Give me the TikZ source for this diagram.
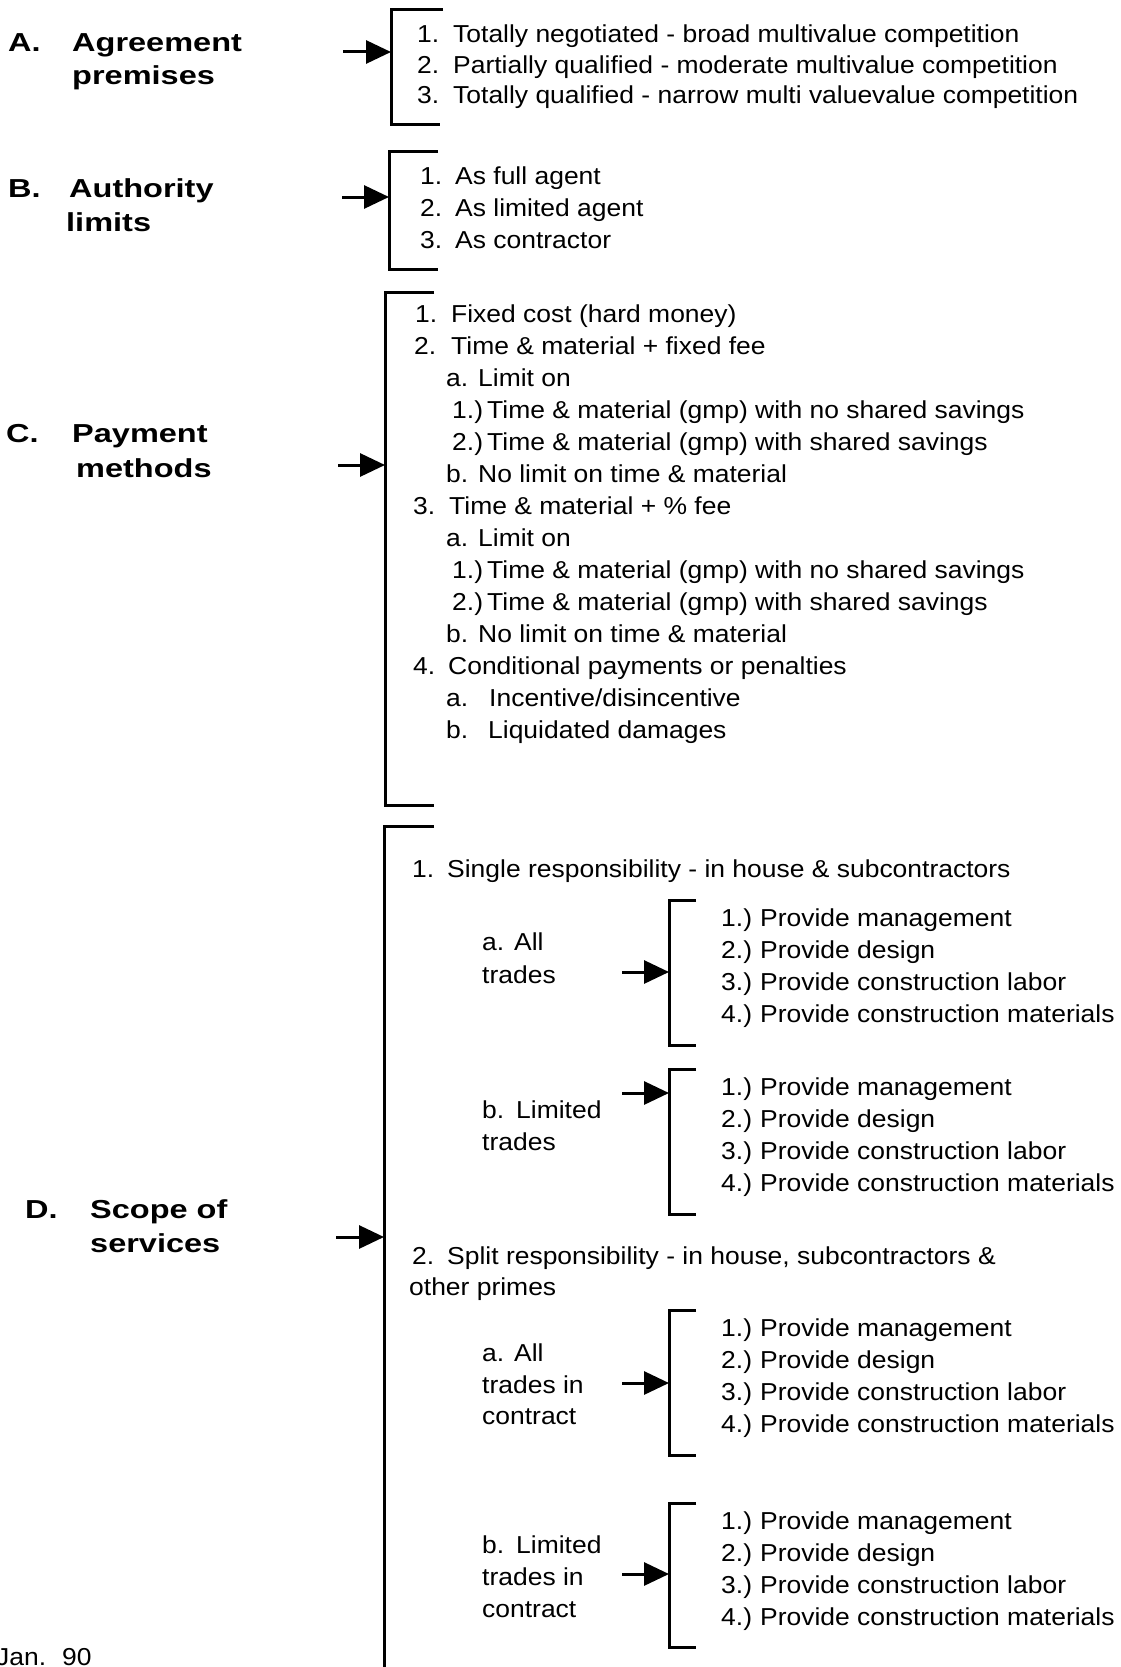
\documentclass[tikz,border=0pt]{standalone}
\usepackage{fontspec}
\setmainfont{Liberation Sans}[FakeStretch=1.08]
\newfontfamily\headfont{Liberation Sans}[FakeStretch=1.25]
\usetikzlibrary{arrows.meta}

% number in a fixed-width slot, followed by the entry text
\newcommand\numbox[3]{\makebox[#1pt][l]{#2}#3}

\tikzset{
  entry/.style={anchor=base west, inner sep=0pt, font=\fontsize{24.5}{29}\selectfont},
  heading/.style={anchor=base west, inner sep=0pt, font=\headfont\bfseries\fontsize{26}{31}\selectfont},
  brace/.style={line width=3pt, line join=miter},
  pointer/.style={line width=3pt, -{Triangle[length=25pt,width=23pt]}},
}

\begin{document}
\begin{tikzpicture}[x=1pt,y=-1pt]
\useasboundingbox (0,0) rectangle (1121,1667);
\fill[white] (0,0) rectangle (1121,1667);

% ---------- A. Agreement premises ----------
\node[heading] (Anum) at (8,52) {A.};
\node[heading] (Ahead1) at (72,52) {Agreement};
\node[heading] (Ahead2) at (72,85) {premises};
\coordinate (Atl) at (443,9.5);  \coordinate (Atop) at (391,9.5);
\coordinate (Abot) at (391,125); \coordinate (Abl) at (440,125);
\draw[brace] (Atl) -- (Atop) -- (Abot) -- (Abl);
\coordinate (Atail) at (343,52); \coordinate (Atip) at (391,52);
\draw[pointer] (Atail) -- (Atip);
\node[entry] (A1) at (417,43)  {\numbox{36}{1.}{Totally negotiated - broad multivalue competition}};
\node[entry] (A2) at (417,74)  {\numbox{36}{2.}{Partially qualified - moderate multivalue competition}};
\node[entry] (A3) at (417,104) {\numbox{36}{3.}{Totally qualified - narrow multi valuevalue competition}};

% ---------- B. Authority limits ----------
\node[heading] (Bnum) at (8,197) {B.};
\node[heading] (Bhead1) at (69,197) {Authority};
\node[heading] (Bhead2) at (66,231) {limits};
\coordinate (Btl) at (438,151);  \coordinate (Btop) at (389,151);
\coordinate (Bbot) at (389,269); \coordinate (Bbl) at (438,269);
\draw[brace] (Btl) -- (Btop) -- (Bbot) -- (Bbl);
\coordinate (Btail) at (342,197); \coordinate (Btip) at (389,197);
\draw[pointer] (Btail) -- (Btip);
\node[entry] (B1) at (420,184) {\numbox{35}{1.}{As full agent}};
\node[entry] (B2) at (420,216) {\numbox{35}{2.}{As limited agent}};
\node[entry] (B3) at (420,248) {\numbox{35}{3.}{As contractor}};

% ---------- C. Payment methods ----------
\node[heading] (Cnum) at (6,442) {C.};
\node[heading] (Chead1) at (72,442) {Payment};
\node[heading] (Chead2) at (76,477) {methods};
\coordinate (Ctl) at (434,292.5); \coordinate (Ctop) at (385,292.5);
\coordinate (Cbot) at (385,805);  \coordinate (Cbl) at (434,805);
\draw[brace] (Ctl) -- (Ctop) -- (Cbot) -- (Cbl);
\coordinate (Ctail) at (338,465); \coordinate (Ctip) at (385,465);
\draw[pointer] (Ctail) -- (Ctip);
\node[entry] (C1)  at (415,322) {\numbox{36}{1.}{Fixed cost (hard money)}};
\node[entry] (C2)  at (414,354) {\numbox{37}{2.}{Time \& material + fixed fee}};
\node[entry] (C2a) at (446,386) {\numbox{32}{a.}{Limit on}};
\node[entry] (C2a1) at (452,418) {\numbox{35}{1.)}{Time \& material (gmp) with no shared savings}};
\node[entry] (C2a2) at (452,450) {\numbox{35}{2.)}{Time \& material (gmp) with shared savings}};
\node[entry] (C2b) at (446,482) {\numbox{32}{b.}{No limit on time \& material}};
\node[entry] (C3)  at (413,514) {\numbox{36}{3.}{Time \& material + \% fee}};
\node[entry] (C3a) at (446,546) {\numbox{32}{a.}{Limit on}};
\node[entry] (C3a1) at (452,578) {\numbox{35}{1.)}{Time \& material (gmp) with no shared savings}};
\node[entry] (C3a2) at (452,610) {\numbox{35}{2.)}{Time \& material (gmp) with shared savings}};
\node[entry] (C3b) at (446,642) {\numbox{32}{b.}{No limit on time \& material}};
\node[entry] (C4)  at (413,674) {\numbox{35}{4.}{Conditional payments or penalties}};
\node[entry] (C4a) at (446,706) {\numbox{43}{a.}{Incentive/disincentive}};
\node[entry] (C4b) at (446,738) {\numbox{42}{b.}{Liquidated damages}};

% ---------- D. Scope of services ----------
\node[heading] (Dnum) at (25,1218) {D.};
\node[heading] (Dhead1) at (90,1218) {Scope of};
\node[heading] (Dhead2) at (90,1252) {services};
\coordinate (Dtl) at (434,826);   \coordinate (Dtop) at (384,826);
\coordinate (Dbot) at (384,1672);
\draw[brace] (Dtl) -- (Dtop) -- (Dbot);
\coordinate (Dtail) at (336,1237); \coordinate (Dtip) at (384,1237);
\draw[pointer] (Dtail) -- (Dtip);

\node[entry] (D1) at (412,877) {\numbox{35}{1.}{Single responsibility - in house \& subcontractors}};
\node[entry] (D1a1) at (482,950)  {\numbox{32}{a.}{All}};
\node[entry] (D1a2) at (482,983)  {trades};
\node[entry] (D1b1) at (482,1118) {\numbox{34}{b.}{Limited}};
\node[entry] (D1b2) at (482,1150) {trades};

\node[entry] (D2)  at (412,1264) {\numbox{35}{2.}{Split responsibility - in house, subcontractors \&}};
\node[entry] (D2x) at (409,1295) {other primes};
\node[entry] (D2a1) at (482,1361) {\numbox{32}{a.}{All}};
\node[entry] (D2a2) at (482,1393) {trades in};
\node[entry] (D2a3) at (482,1424) {contract};
\node[entry] (D2b1) at (482,1553) {\numbox{34}{b.}{Limited}};
\node[entry] (D2b2) at (482,1585) {trades in};
\node[entry] (D2b3) at (482,1617) {contract};

% the four service lists, each with its own bracket and pointer
\foreach \k/\tp/\bt/\ay in {Sa/900/1045/972, Sb/1069/1214/1093, Sc/1310/1455/1383, Sd/1503/1647/1574}{
  \coordinate (\k tl) at (696,\tp);  \coordinate (\k top) at (669,\tp);
  \coordinate (\k bot) at (669,\bt); \coordinate (\k bl) at (696,\bt);
  \draw[brace] (\k tl) -- (\k top) -- (\k bot) -- (\k bl);
  \coordinate (\k tail) at (622,\ay); \coordinate (\k tip) at (669,\ay);
  \draw[pointer] (\k tail) -- (\k tip);
  \node[entry] (\k 1) at (721,\tp+26)  {\numbox{39}{1.)}{Provide management}};
  \node[entry] (\k 2) at (721,\tp+58)  {\numbox{39}{2.)}{Provide design}};
  \node[entry] (\k 3) at (721,\tp+90)  {\numbox{39}{3.)}{Provide construction labor}};
  \node[entry] (\k 4) at (721,\tp+122) {\numbox{39}{4.)}{Provide construction materials}};
}

% date stamp at the lower left
\node[entry] (date) at (-4,1665) {\numbox{66}{Jan.}{90}};
\end{tikzpicture}
\end{document}
